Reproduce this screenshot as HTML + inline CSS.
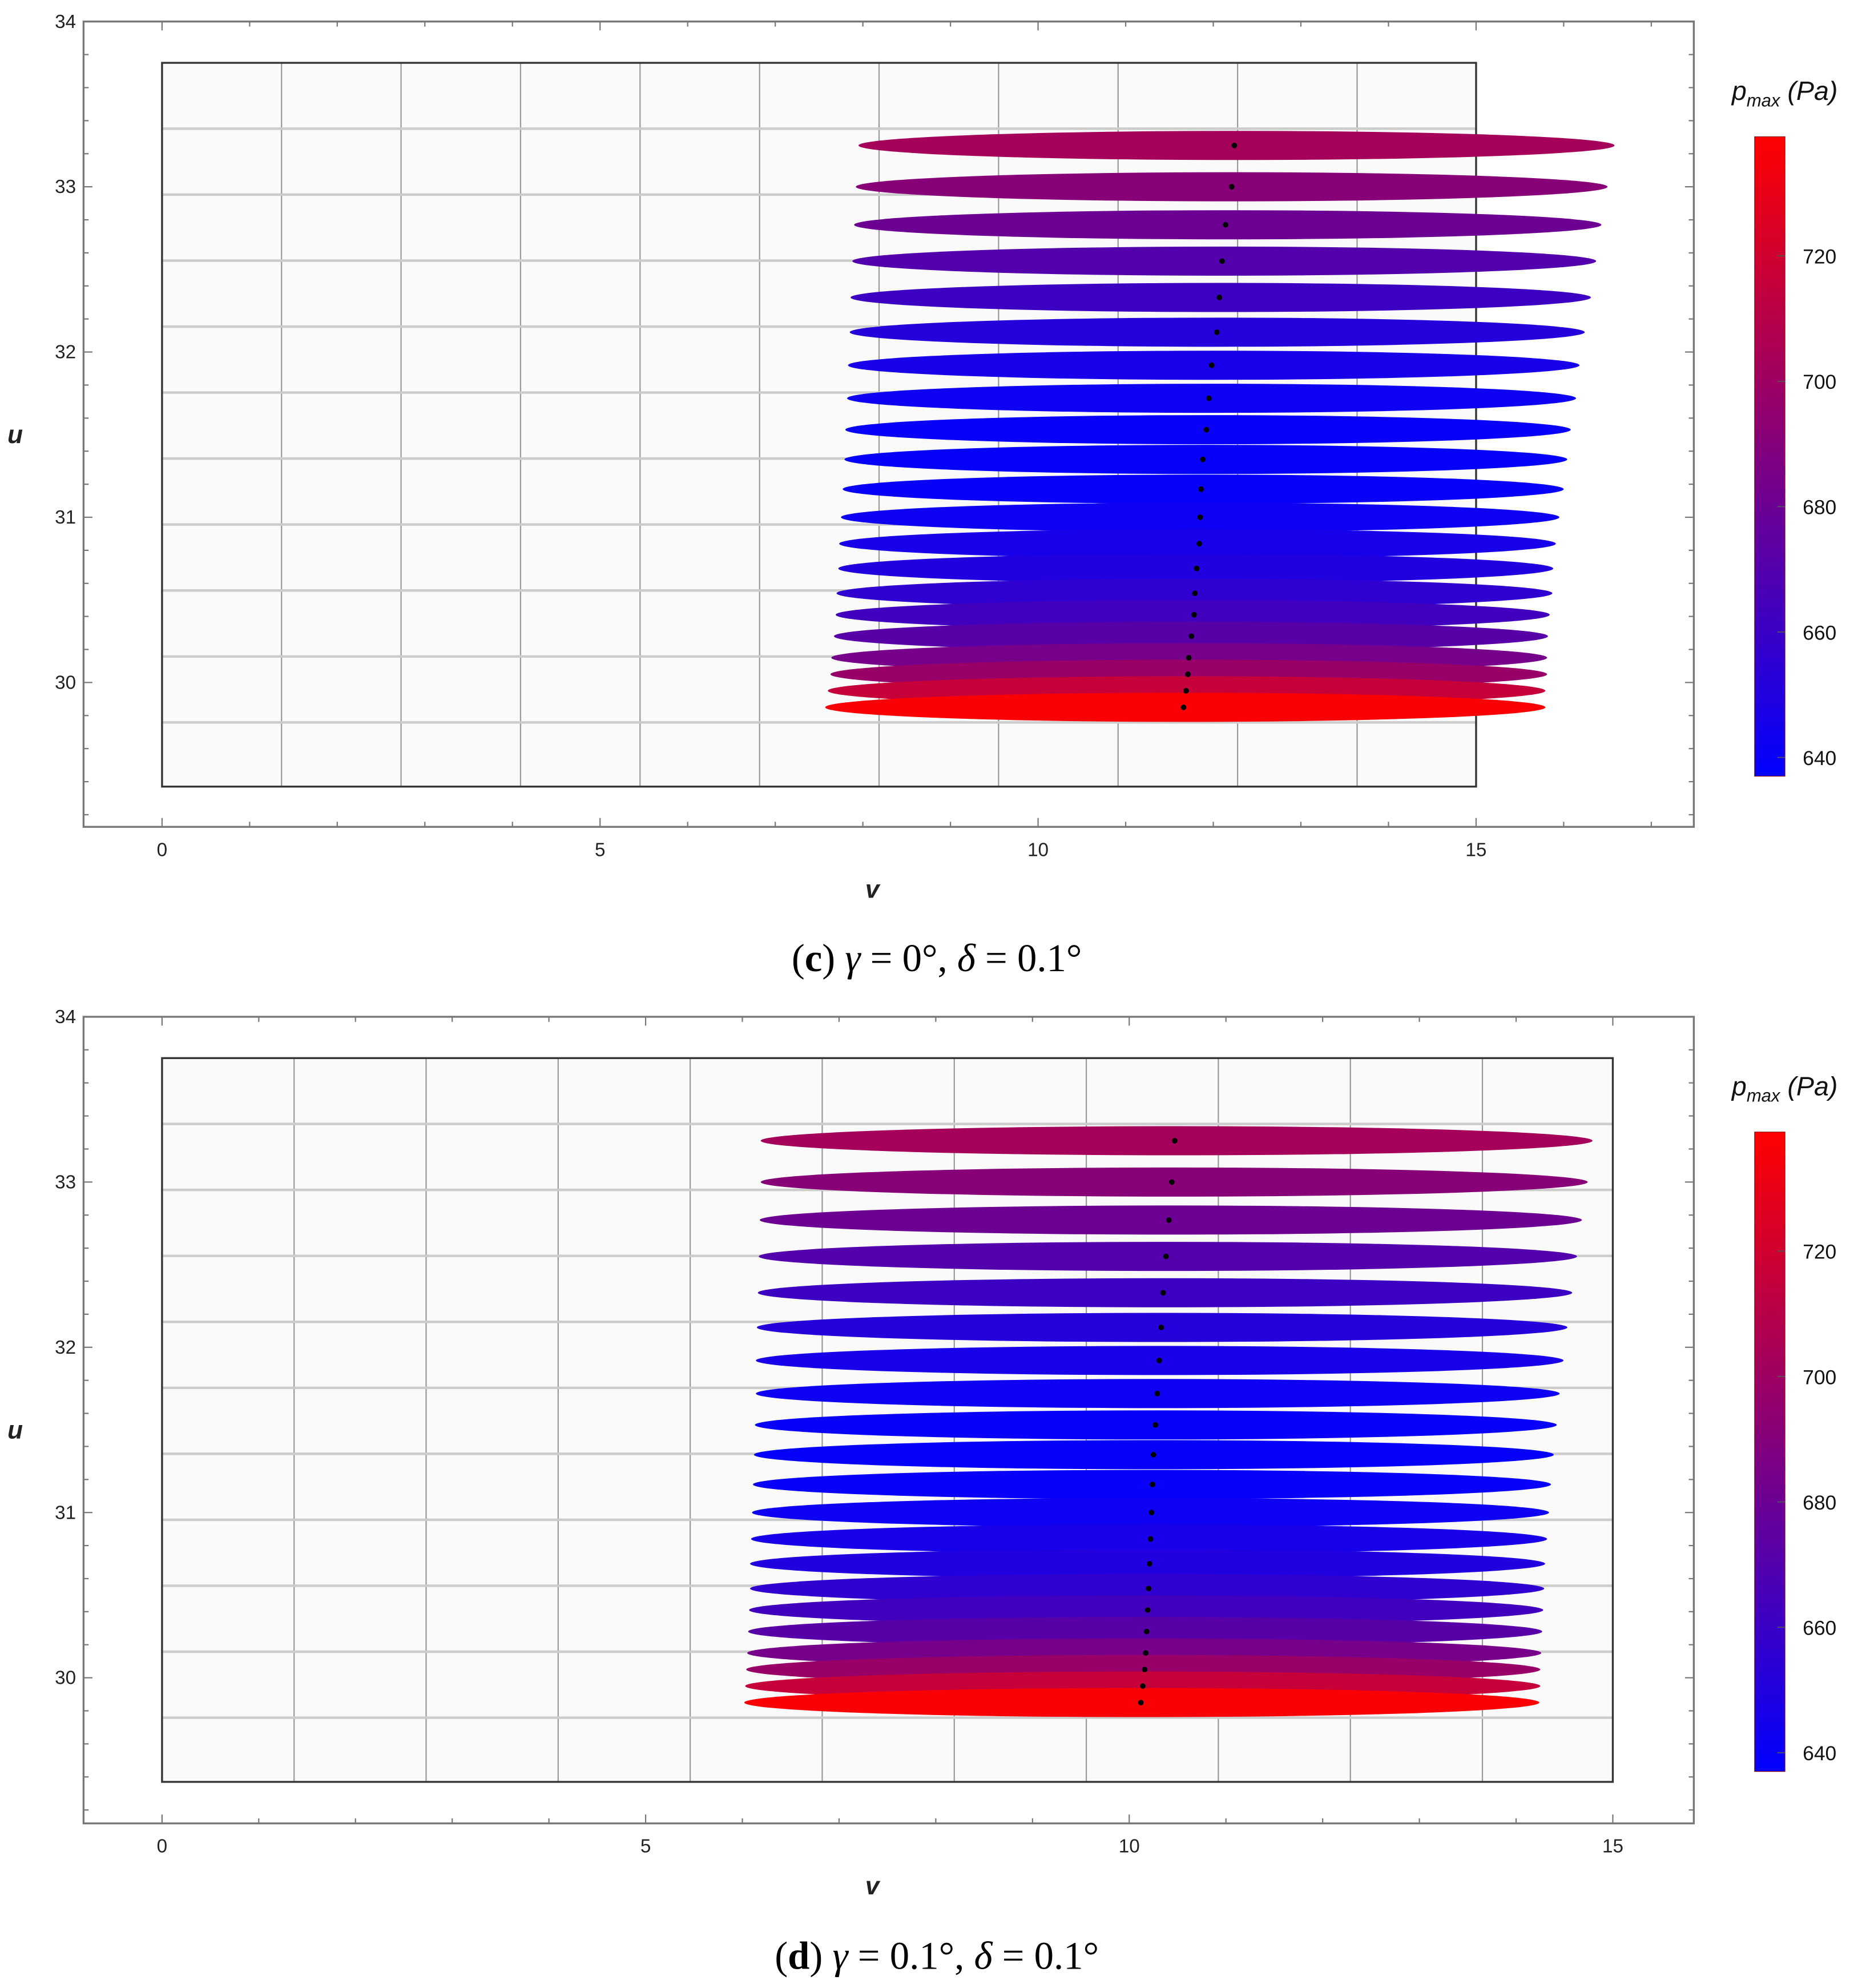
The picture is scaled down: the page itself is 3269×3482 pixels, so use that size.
<!DOCTYPE html>
<html><head><meta charset="utf-8"><style>
html,body{margin:0;padding:0;background:#fff;}
svg{display:block;}
</style></head><body>
<svg id="fig" width="3269" height="3482" viewBox="0 0 1474 1570" preserveAspectRatio="none" xmlns="http://www.w3.org/2000/svg" font-family="Liberation Sans, sans-serif">
<defs>
<linearGradient id="cbgrad" x1="0" y1="1" x2="0" y2="0">
<stop offset="0" stop-color="#0000ff"/><stop offset="1" stop-color="#ff0000"/>
</linearGradient>
</defs>
<g id="panelC"></g>
<g id="panelD"></g>
<text x="740" y="767" font-family="Liberation Serif, serif" font-size="31" text-anchor="middle">(<tspan font-weight="bold">c</tspan>)  <tspan font-style="italic">γ</tspan> = 0°,  <tspan font-style="italic">δ</tspan> = 0.1°</text>
<text x="740" y="1555" font-family="Liberation Serif, serif" font-size="31" text-anchor="middle">(<tspan font-weight="bold">d</tspan>)  <tspan font-style="italic">γ</tspan> = 0.1°,  <tspan font-style="italic">δ</tspan> = 0.1°</text>
</svg>
<script>
// shared data
const uValues = [33.25,33.00,32.77,32.55,32.33,32.12,31.92,31.72,31.53,31.35,31.17,31.00,30.84,30.69,30.54,30.41,30.28,30.15,30.05,29.95,29.85];
const pValues = [703,691,680,670,661,652,646,642,640,639,640,642,646,650,656,663,672,684,698,716,737];
const colorTicks = [640,660,680,700,720];
const xTickLabels = [0,5,10,15];
const yTickLabels = [30,31,32,33,34];
// panel c
const cLeft = [7.95,7.92,7.90,7.88,7.86,7.85,7.83,7.82,7.80,7.79,7.77,7.75,7.73,7.72,7.70,7.69,7.67,7.64,7.63,7.60,7.57];
const cRight = [16.58,16.50,16.43,16.37,16.31,16.24,16.18,16.14,16.08,16.04,16.00,15.95,15.91,15.88,15.87,15.84,15.82,15.81,15.81,15.79,15.79];
const cDot = [12.24,12.21,12.14,12.10,12.07,12.04,11.98,11.95,11.92,11.88,11.86,11.85,11.84,11.81,11.79,11.78,11.75,11.72,11.71,11.69,11.66];
// panel d
const dLeft = [6.19,6.19,6.18,6.17,6.16,6.15,6.14,6.14,6.13,6.12,6.11,6.10,6.09,6.08,6.08,6.07,6.06,6.05,6.04,6.03,6.02];
const dRight = [14.79,14.74,14.68,14.63,14.58,14.53,14.49,14.45,14.42,14.39,14.36,14.34,14.32,14.30,14.29,14.28,14.27,14.26,14.25,14.25,14.24];
const dDot = [10.47,10.44,10.41,10.38,10.35,10.33,10.31,10.29,10.27,10.25,10.24,10.23,10.22,10.21,10.20,10.19,10.18,10.17,10.16,10.14,10.12];

const NS='http://www.w3.org/2000/svg';
function mk(parent,tag,attrs){const e=document.createElementNS(NS,tag);for(const k in attrs)e.setAttribute(k,attrs[k]);parent.appendChild(e);return e;}
function pColor(p){const t=Math.max(0,Math.min(1,(p-637)/102));return 'rgb('+Math.round(255*t)+',0,'+Math.round(255*(1-t))+')';}

function drawPanel(g,cfg,L,R,D){
  const x=v=>cfg.x0+v*cfg.xs;
  const y=u=>cfg.top+(34-u)*130.5;
  mk(g,'rect',{x:cfg.ox0,y:cfg.top,width:cfg.ox1-cfg.ox0,height:cfg.ob-cfg.top,fill:'#fff'});
  const inner=mk(g,'rect',{x:x(0),y:y(33.75),width:x(15)-x(0),height:y(29.37)-y(33.75),fill:'#fafafa'});
  
  
  for(let i=1;i<=10;i++){const gx=x(0)+i*cfg.vgrid;
    const l=mk(g,'line',{x1:gx,x2:gx,y1:y(33.75),y2:y(29.37),stroke:'#999','stroke-width':1});
    
    }
  for(let i=0;i<10;i++){const gy=y(33.75)+52+i*52.1;
    const l=mk(g,'line',{x1:x(0),x2:x(15),y1:gy,y2:gy,stroke:'#ccc','stroke-width':2});
    
    }
  const box=mk(g,'rect',{x:x(0),y:y(33.75),width:x(15)-x(0),height:y(29.37)-y(33.75),fill:'none',stroke:'#333','stroke-width':1.5});
  
  
  for(let i=0;i<uValues.length;i++){
    const e=mk(g,'ellipse',{cx:(x(L[i])+x(R[i]))/2,cy:y(uValues[i]),rx:(x(R[i])-x(L[i]))/2,ry:11.5,fill:pColor(pValues[i])});
    
    
  }
  for(let i=0;i<uValues.length;i++){
    const d=mk(g,'circle',{cx:x(D[i]),cy:y(uValues[i]),r:2.2,fill:'#000'});
    
    
  }
  const of=mk(g,'rect',{x:cfg.ox0,y:cfg.top,width:cfg.ox1-cfg.ox0,height:cfg.ob-cfg.top,fill:'none',stroke:'#777','stroke-width':1.5});
  
  
  for(let v=0;v<=cfg.vmax;v++){const tx=x(v);const len=v%5===0?7:4;
    mk(g,'line',{x1:tx,x2:tx,y1:cfg.ob,y2:cfg.ob-len,stroke:'#777','stroke-width':1});
    mk(g,'line',{x1:tx,x2:tx,y1:cfg.top,y2:cfg.top+len,stroke:'#777','stroke-width':1});}
  for(const v of xTickLabels){const t=mk(g,'text',{x:x(v),y:cfg.ob+23,'font-size':15,'text-anchor':'middle',fill:'#222'});t.textContent=v;
    
    }
  for(let k=0;k<=24;k++){const u=34-k*0.2;const ty=y(u);if(ty>cfg.ob)break;const len=(k%5===0)?7:4;
    mk(g,'line',{x1:cfg.ox0,x2:cfg.ox0+len,y1:ty,y2:ty,stroke:'#777','stroke-width':1});
    mk(g,'line',{x1:cfg.ox1,x2:cfg.ox1-len,y1:ty,y2:ty,stroke:'#777','stroke-width':1});}
  for(const u of yTickLabels){const t=mk(g,'text',{x:cfg.ox0-6,y:y(u)+5,'font-size':15,'text-anchor':'end',fill:'#222'});t.textContent=u;
    
    }
  const xt=mk(g,'text',{x:689,y:cfg.ob+56,'font-size':20,'font-weight':'bold','font-style':'italic','text-anchor':'middle',fill:'#222'});xt.textContent='v';
  
  
  const yt=mk(g,'text',{x:12,y:cfg.top+333,'font-size':20,'font-weight':'bold','font-style':'italic','text-anchor':'middle',fill:'#222'});yt.textContent='u';
  
  
  const cbTop=cfg.top+91, cbBot=cfg.top+596;
  const cb=mk(g,'rect',{x:1386,y:cbTop,width:24,height:cbBot-cbTop,fill:'url(#cbgrad)',stroke:'#800','stroke-width':0.5});
  
  
  const py=p=>cbBot-(p-637)/(739-637)*(cbBot-cbTop);
  for(const p of colorTicks){
    mk(g,'line',{x1:1404,x2:1410,y1:py(p),y2:py(p),stroke:'#555','stroke-width':0.8});
    const t=mk(g,'text',{x:1424,y:py(p)+6,'font-size':16,fill:'#111'});t.textContent=p;
    
    }
  const ct=mk(g,'text',{x:1368,y:cfg.top+62,'font-size':21,'font-style':'italic',fill:'#111'});
  
  
  ct.innerHTML='p<tspan font-size="14" dy="5">max</tspan><tspan dy="-5"> (Pa)</tspan>';
}
drawPanel(document.getElementById('panelC'),{top:17,ob:653,ox0:66,ox1:1338,x0:128,xs:69.2,vmax:17,vgrid:94.4},cLeft,cRight,cDot);
drawPanel(document.getElementById('panelD'),{top:803,ob:1440,ox0:66,ox1:1338,x0:128,xs:76.4,vmax:15,vgrid:104.3},dLeft,dRight,dDot);
</script>
</body></html>
